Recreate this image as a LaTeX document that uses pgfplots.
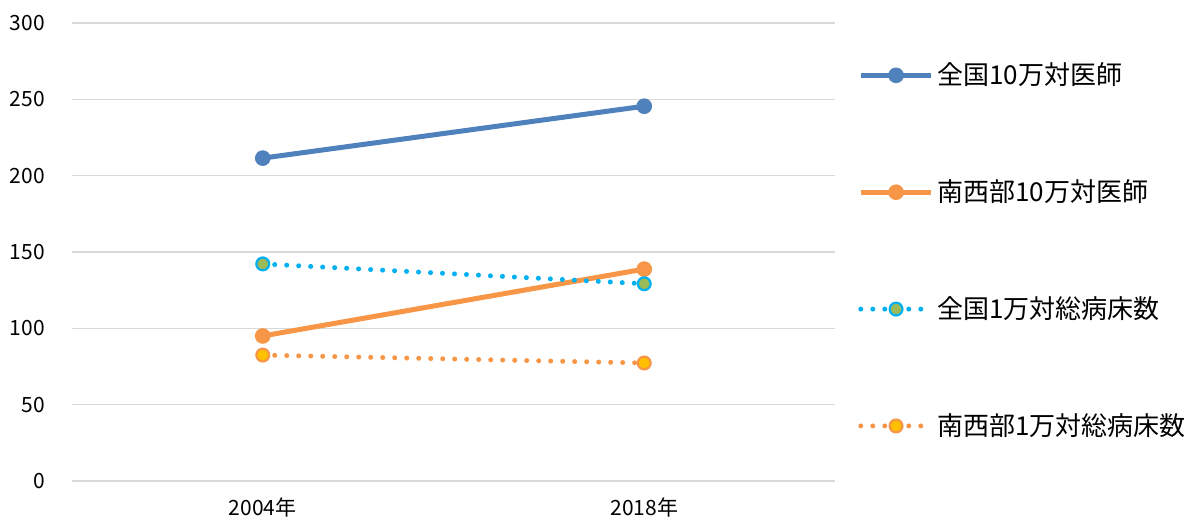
\documentclass[border=0pt]{standalone}
\usepackage{pgfplots}
\pgfplotsset{compat=1.18}
\usepackage{fontspec}
\setmainfont{Noto Sans CJK JP}
\definecolor{cblue}{HTML}{4F81BD}
\definecolor{corange}{HTML}{F79646}
\definecolor{ccyan}{HTML}{00B0F0}
\definecolor{cgreen}{HTML}{9BBB59}
\definecolor{cgold}{HTML}{FFC000}
\definecolor{cgrid}{HTML}{D9D9D9}
\begin{document}
\begin{tikzpicture}
\begin{axis}[
  scale only axis,
  width=381.5pt, height=229pt,
  xmin=-0.5, xmax=1.5,
  ymin=0, ymax=300,
  ytick={0,50,...,300},
  xtick={0,1},
  xticklabels={2004年,2018年},
  major tick length=0pt,
  axis line style={draw=none},
  ymajorgrids,
  major grid style={cgrid, line width=0.8pt},
  tick label style={font=\fontsize{10.5}{12}\selectfont},
  yticklabel style={xshift=-10pt},
  xticklabel style={yshift=-5pt},
  /pgf/number format/assume math mode=true,
  legend cell align=left,
  legend style={draw=none, at={(1.03,0.503)}, anchor=west,
    font=\fontsize{13}{15}\selectfont, row sep=42pt, inner sep=0pt,
    nodes={inner sep=2pt}},
  legend image code/.code={\draw[mark repeat=2,mark phase=2] plot coordinates {(0cm,0cm)(0.62cm,0cm)(1.23cm,0cm)};},
]
\coordinate (sw) at (rel axis cs:0,0);
\addplot[cblue, line width=2.5pt, mark=*, mark size=3.7pt, mark options={solid, line width=0.4pt}]
  coordinates {(0,211.5) (1,245.5)};
\addlegendentry{全国10万対医師}
\addplot[corange, line width=2.5pt, mark=*, mark size=3.7pt, mark options={solid, line width=0.4pt}]
  coordinates {(0,95) (1,138.8)};
\addlegendentry{南西部10万対医師}
\addplot[ccyan, line width=2.5pt, line cap=round, dash pattern=on 0pt off 6pt, mark=*, mark size=3.2pt,
  mark options={solid, fill=cgreen, draw=ccyan, line width=1.1pt}]
  coordinates {(0,142.2) (1,129.2)};
\addlegendentry{全国1万対総病床数}
\addplot[corange, line width=2.5pt, line cap=round, dash pattern=on 0pt off 6pt, mark=*, mark size=3.2pt,
  mark options={solid, fill=cgold, draw=corange, line width=1.1pt}]
  coordinates {(0,82.5) (1,77.3)};
\addlegendentry{南西部1万対総病床数}
\end{axis}
\pgfresetboundingbox
\path (sw) ++(-36pt,-20pt) rectangle ++(598pt,260.5pt);
\end{tikzpicture}
\end{document}
